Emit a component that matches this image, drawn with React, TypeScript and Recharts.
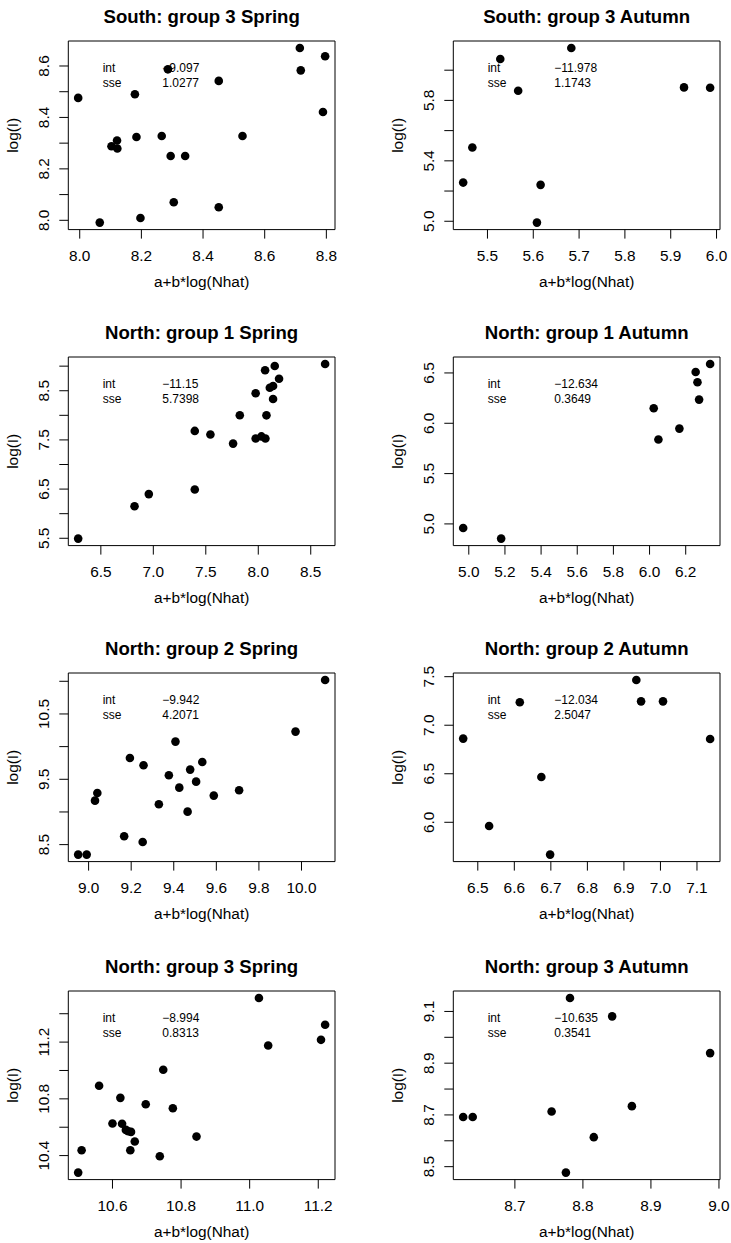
// Eight scatter panels (log(I) vs a+b*log(Nhat)), laid out 4 rows x 2 columns
// in the style of base-R plot(): boxed panels, rotated y tick labels, 4% axis padding.

import { ScatterChart, Scatter, XAxis, YAxis, ReferenceArea } from "recharts";

const FONT = '"Liberation Sans", Arial, Helvetica, sans-serif';

// ---- data ----

// South: group 3 Spring
const s3SpringX = [7.995, 8.065, 8.103, 8.121, 8.122, 8.179, 8.184, 8.197, 8.266, 8.286, 8.295, 8.305, 8.342, 8.451, 8.451, 8.528, 8.714, 8.717, 8.789, 8.796];
const s3SpringY = [8.476, 7.991, 8.288, 8.31, 8.279, 8.49, 8.324, 8.009, 8.328, 8.587, 8.25, 8.07, 8.25, 8.542, 8.051, 8.328, 8.67, 8.583, 8.421, 8.638];
const s3SpringXTicks = [8.0, 8.2, 8.4, 8.6, 8.8];
const s3SpringYTicks = [8.0, 8.1, 8.2, 8.3, 8.4, 8.5, 8.6];
const s3SpringYLabels = [8.0, 8.2, 8.4, 8.6];

// South: group 3 Autumn
const s3AutumnX = [5.447, 5.467, 5.528, 5.567, 5.608, 5.616, 5.683, 5.929, 5.986];
const s3AutumnY = [5.256, 5.488, 6.074, 5.864, 4.991, 5.241, 6.147, 5.886, 5.884];
const s3AutumnXTicks = [5.5, 5.6, 5.7, 5.8, 5.9, 6.0];
const s3AutumnYTicks = [5.0, 5.2, 5.4, 5.6, 5.8, 6.0];
const s3AutumnYLabels = [5.0, 5.4, 5.8];

// North: group 1 Spring
const n1SpringX = [6.284, 6.821, 6.957, 7.395, 7.395, 7.544, 7.76, 7.824, 7.975, 7.975, 8.03, 8.068, 8.065, 8.078, 8.11, 8.141, 8.141, 8.157, 8.198, 8.637];
const n1SpringY = [5.493, 6.152, 6.398, 7.683, 6.493, 7.609, 7.425, 8.002, 8.45, 7.53, 7.571, 7.53, 8.918, 8.0, 8.562, 8.596, 8.331, 9.003, 8.745, 9.044];
const n1SpringXTicks = [6.5, 7.0, 7.5, 8.0, 8.5];
const n1SpringYTicks = [5.5, 6.0, 6.5, 7.0, 7.5, 8.0, 8.5, 9.0];
const n1SpringYLabels = [5.5, 6.5, 7.5, 8.5];

// North: group 1 Autumn
const n1AutumnX = [4.969, 5.179, 6.023, 6.049, 6.165, 6.255, 6.265, 6.274, 6.335];
const n1AutumnY = [4.96, 4.854, 6.149, 5.838, 5.947, 6.51, 6.407, 6.235, 6.589];
const n1AutumnXTicks = [5.0, 5.2, 5.4, 5.6, 5.8, 6.0, 6.2];
const n1AutumnYTicks = [5.0, 5.5, 6.0, 6.5];
const n1AutumnYLabels = [5.0, 5.5, 6.0, 6.5];

// North: group 2 Spring
const n2SpringX = [8.951, 8.991, 9.03, 9.041, 9.167, 9.194, 9.254, 9.258, 9.33, 9.377, 9.408, 9.426, 9.465, 9.477, 9.505, 9.534, 9.588, 9.707, 9.972, 10.111];
const n2SpringY = [8.347, 8.347, 9.173, 9.291, 8.628, 9.827, 8.541, 9.714, 9.117, 9.561, 10.077, 9.372, 9.005, 9.648, 9.464, 9.765, 9.25, 9.332, 10.23, 11.02];
const n2SpringXTicks = [9.0, 9.2, 9.4, 9.6, 9.8, 10.0];
const n2SpringYTicks = [8.5, 9.0, 9.5, 10.0, 10.5, 11.0];
const n2SpringYLabels = [8.5, 9.5, 10.5];

// North: group 2 Autumn
const n2AutumnX = [6.46, 6.531, 6.615, 6.674, 6.698, 6.934, 6.947, 7.007, 7.136];
const n2AutumnY = [6.862, 5.962, 7.236, 6.467, 5.667, 7.466, 7.246, 7.246, 6.858];
const n2AutumnXTicks = [6.5, 6.6, 6.7, 6.8, 6.9, 7.0, 7.1];
const n2AutumnYTicks = [6.0, 6.5, 7.0, 7.5];
const n2AutumnYLabels = [6.0, 6.5, 7.0, 7.5];

// North: group 3 Spring
const n3SpringX = [10.5, 10.51, 10.561, 10.6, 10.623, 10.628, 10.639, 10.646, 10.654, 10.652, 10.665, 10.697, 10.738, 10.748, 10.776, 10.845, 11.027, 11.054, 11.208, 11.22];
const n3SpringY = [10.28, 10.438, 10.892, 10.626, 10.807, 10.624, 10.581, 10.572, 10.567, 10.438, 10.499, 10.762, 10.395, 11.005, 10.734, 10.534, 11.511, 11.176, 11.216, 11.322];
const n3SpringXTicks = [10.6, 10.8, 11.0, 11.2];
const n3SpringYTicks = [10.4, 10.6, 10.8, 11.0, 11.2, 11.4];
const n3SpringYLabels = [10.4, 10.8, 11.2];

// North: group 3 Autumn
const n3AutumnX = [8.624, 8.638, 8.754, 8.775, 8.781, 8.816, 8.843, 8.872, 8.987];
const n3AutumnY = [8.692, 8.692, 8.713, 8.477, 9.152, 8.614, 9.081, 8.734, 8.939];
const n3AutumnXTicks = [8.7, 8.8, 8.9, 9.0];
const n3AutumnYTicks = [8.5, 8.6, 8.7, 8.8, 8.9, 9.0, 9.1];
const n3AutumnYLabels = [8.5, 8.7, 8.9, 9.1];

// fitted intercept and sse printed in each panel
const titles = [
  "South: group 3 Spring", "South: group 3 Autumn",
  "North: group 1 Spring", "North: group 1 Autumn",
  "North: group 2 Spring", "North: group 2 Autumn",
  "North: group 3 Spring", "North: group 3 Autumn",
];
const intValues = ["\u22129.097", "\u221211.978", "\u221211.15", "\u221212.634", "\u22129.942", "\u221212.034", "\u22128.994", "\u221210.635"];
const sseValues = ["1.0277", "1.1743", "5.7398", "0.3649", "4.2071", "2.5047", "0.8313", "0.3541"];

const panels = [
  { x: s3SpringX, y: s3SpringY, xTicks: s3SpringXTicks, yTicks: s3SpringYTicks, yLabels: s3SpringYLabels },
  { x: s3AutumnX, y: s3AutumnY, xTicks: s3AutumnXTicks, yTicks: s3AutumnYTicks, yLabels: s3AutumnYLabels },
  { x: n1SpringX, y: n1SpringY, xTicks: n1SpringXTicks, yTicks: n1SpringYTicks, yLabels: n1SpringYLabels },
  { x: n1AutumnX, y: n1AutumnY, xTicks: n1AutumnXTicks, yTicks: n1AutumnYTicks, yLabels: n1AutumnYLabels },
  { x: n2SpringX, y: n2SpringY, xTicks: n2SpringXTicks, yTicks: n2SpringYTicks, yLabels: n2SpringYLabels },
  { x: n2AutumnX, y: n2AutumnY, xTicks: n2AutumnXTicks, yTicks: n2AutumnYTicks, yLabels: n2AutumnYLabels },
  { x: n3SpringX, y: n3SpringY, xTicks: n3SpringXTicks, yTicks: n3SpringYTicks, yLabels: n3SpringYLabels },
  { x: n3AutumnX, y: n3AutumnY, xTicks: n3AutumnXTicks, yTicks: n3AutumnYTicks, yLabels: n3AutumnYLabels },
];

// ---- layout (px) ----
const W = 346;
const H = 293;
const BOX_LEFT = 68.3;
const BOX_RIGHT = 335;
const BOX_TOP = 41;
const BOX_BOTTOM = 229.6;
const TICK = 9;
const COL_X = [0, 385];
const ROW_Y = [0, 316.3, 632.3, 949.7];
const VALUE_X = [94, 101]; // value column offset differs a little between columns

// R pads each axis range by 4% on both sides
function rDomain(v: number[]): [number, number] {
  const lo = Math.min(...v);
  const hi = Math.max(...v);
  const pad = (hi - lo) * 0.04;
  return [lo - pad, hi + pad];
}

function XTick(props: any) {
  const { x, y, payload } = props;
  return (
    <text x={x} y={y + 22.7} textAnchor="middle" fontSize={15.4} fontFamily={FONT} fill="#000">
      {Number(payload.value).toFixed(1)}
    </text>
  );
}

function YTick(props: any) {
  const { x, y, payload, labels } = props;
  const v = Number(payload.value);
  // R skips labels that would overlap; only some ticks get text
  if (!labels.some((l: number) => Math.abs(l - v) < 1e-9)) return <g />;
  return (
    <text
      transform={`translate(${x - 10},${y}) rotate(-90)`}
      textAnchor="middle"
      fontSize={15.4}
      fontFamily={FONT}
      fill="#000"
    >
      {v.toFixed(1)}
    </text>
  );
}

function Panel({ idx }: { idx: number }) {
  const p = panels[idx];
  const col = idx % 2;
  const row = Math.floor(idx / 2);
  const xDom = rDomain(p.x);
  const yDom = rDomain(p.y);
  const data = p.x.map((x, i) => ({ x, y: p.y[i] }));
  const midX = (BOX_LEFT + BOX_RIGHT) / 2;
  const midY = (BOX_TOP + BOX_BOTTOM) / 2;

  return (
    <div style={{ position: "absolute", left: COL_X[col], top: ROW_Y[row], width: W, height: H }}>
      <ScatterChart
        width={W}
        height={H}
        margin={{ top: BOX_TOP, right: W - BOX_RIGHT, bottom: 0, left: 0 }}
      >
        <XAxis
          type="number"
          dataKey="x"
          domain={xDom}
          ticks={p.xTicks}
          interval={0}
          allowDataOverflow
          axisLine={false}
          tickSize={TICK}
          tickMargin={0}
          tickLine={{ stroke: "#000", strokeWidth: 1 }}
          tick={XTick}
          height={H - BOX_BOTTOM}
        />
        <YAxis
          type="number"
          dataKey="y"
          domain={yDom}
          ticks={p.yTicks}
          interval={0}
          allowDataOverflow
          axisLine={false}
          tickSize={TICK}
          tickMargin={0}
          tickLine={{ stroke: "#000", strokeWidth: 1 }}
          tick={(tp: any) => <YTick {...tp} labels={p.yLabels} />}
          width={BOX_LEFT}
        />
        {/* the plot box */}
        <ReferenceArea
          x1={xDom[0]}
          x2={xDom[1]}
          y1={yDom[0]}
          y2={yDom[1]}
          fill="none"
          fillOpacity={0}
          stroke="#000"
          strokeWidth={1}
          strokeOpacity={1}
          ifOverflow="visible"
        />
        <Scatter
          data={data}
          isAnimationActive={false}
          shape={(s: any) => <circle cx={s.cx} cy={s.cy} r={4.3} fill="#000" />}
        />
      </ScatterChart>

      {/* title, axis titles and the int / sse annotation */}
      <svg
        width={W}
        height={H}
        style={{ position: "absolute", left: 0, top: 0, pointerEvents: "none" }}
        fontFamily={FONT}
      >
        <text x={midX} y={BOX_TOP - 17.7} textAnchor="middle" fontSize={18.6} fontWeight="bold" fill="#000">
          {titles[idx]}
        </text>
        <text x={midX} y={BOX_BOTTOM + 57.5} textAnchor="middle" fontSize={15.4} fill="#000">
          a+b*log(Nhat)
        </text>
        <text
          transform={`translate(${BOX_LEFT - 50},${midY}) rotate(-90)`}
          textAnchor="middle"
          fontSize={15.4}
          fill="#000"
        >
          log(I)
        </text>
        <text x={BOX_LEFT + 34.4} y={BOX_TOP + 30.5} fontSize={12} fill="#000">int</text>
        <text x={BOX_LEFT + 34.4} y={BOX_TOP + 45.5} fontSize={12} fill="#000">sse</text>
        <text x={BOX_LEFT + VALUE_X[col]} y={BOX_TOP + 30.5} fontSize={12} fill="#000">{intValues[idx]}</text>
        <text x={BOX_LEFT + VALUE_X[col]} y={BOX_TOP + 45.5} fontSize={12} fill="#000">{sseValues[idx]}</text>
      </svg>
    </div>
  );
}

export default function App() {
  return (
    <div
      style={{
        position: "absolute",
        left: 0,
        top: 0,
        width: 731,
        height: 1243,
        overflow: "hidden",
        background: "#fff",
      }}
    >
      {panels.map((_, i) => (
        <Panel key={i} idx={i} />
      ))}
    </div>
  );
}
